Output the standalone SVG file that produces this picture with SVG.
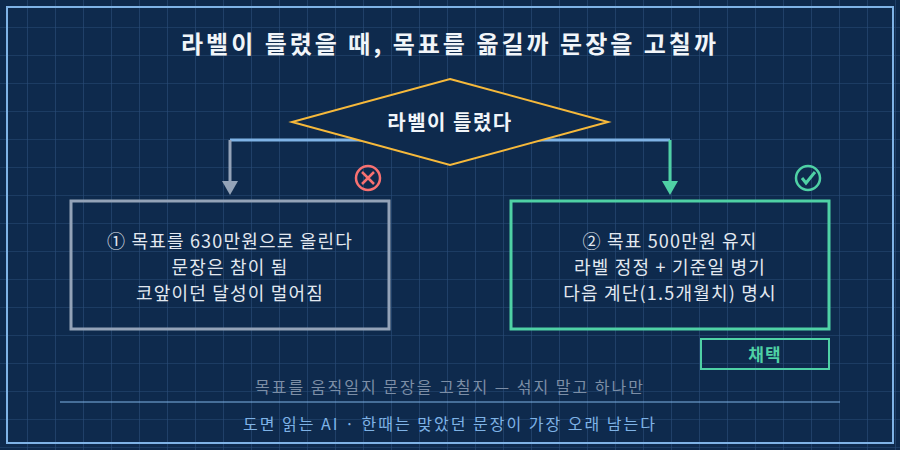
<svg xmlns="http://www.w3.org/2000/svg" width="900" height="450" viewBox="0 0 900 450">
<defs>
<pattern id="grid" width="28" height="28" patternUnits="userSpaceOnUse"><path d="M28 0V28M0 28H28" fill="none" stroke="#2a4d7a" stroke-width="1.2"/></pattern>
</defs>
<style>
text{font-family:"Noto Sans CJK KR","Noto Sans",sans-serif;text-anchor:middle}
.t{fill:#f1f5f9}
.n{fill:#e2e8f0;font-size:18px;letter-spacing:1.2px}
</style>
<rect width="900" height="450" fill="#0e2a4d"/>
<rect width="900" height="450" fill="url(#grid)"/>
<rect x="7" y="7" width="886" height="436" fill="none" stroke="#7fb3e6" stroke-width="2"/>
<text class="t" x="450" y="53" font-size="24" font-weight="bold" letter-spacing="3">라벨이 틀렸을 때, 목표를 옮길까 문장을 고칠까</text>
<g id="connectors" fill="none" stroke-width="3">
<path d="M367 140H230" stroke="#7fb3e6"/>
<path d="M230 140V182" stroke="#94a3b8"/>
<path d="M222 181L230 195L238 181Z" fill="#94a3b8" stroke="none"/>
<path d="M530 140H670" stroke="#7fb3e6"/>
<path d="M670 140V182" stroke="#4fd1a5"/>
<path d="M662 181L670 195L678 181Z" fill="#4fd1a5" stroke="none"/>
</g>
<g id="decision">
<polygon points="450,79 608,122 450,165 292,122" fill="#0e2a4d" stroke="#f6b93b" stroke-width="2"/>
<text class="t" x="450" y="130" font-size="20" font-weight="bold" letter-spacing="1.5">라벨이 틀렸다</text>
</g>
<g id="reject">
<circle cx="368" cy="178" r="12" fill="none" stroke="#f87171" stroke-width="2.5"/>
<path d="M362 172L374 184M374 172L362 184" stroke="#f87171" stroke-width="2.5"/>
<rect x="71" y="201" width="318" height="128" fill="none" stroke="#94a3b8" stroke-width="3"/>
<text class="n" x="230" y="248">① 목표를 630만원으로 올린다</text>
<text class="n" x="230" y="274">문장은 참이 됨</text>
<text class="n" x="230" y="300">코앞이던 달성이 멀어짐</text>
</g>
<g id="accept">
<circle cx="808" cy="178" r="12" fill="none" stroke="#4fd1a5" stroke-width="2.5"/>
<path d="M802 178L806 183L815 172" fill="none" stroke="#4fd1a5" stroke-width="3"/>
<rect x="511" y="201" width="318" height="128" fill="none" stroke="#4fd1a5" stroke-width="3"/>
<text class="n" x="670" y="248">② 목표 500만원 유지</text>
<text class="n" x="670" y="274">라벨 정정 + 기준일 병기</text>
<text class="n" x="670" y="300">다음 계단(1.5개월치) 명시</text>
</g>
<g id="adopt">
<rect x="701" y="339" width="128" height="30" fill="none" stroke="#4fd1a5" stroke-width="2"/>
<text x="765" y="361" font-size="17" font-weight="bold" letter-spacing="1" fill="#4fd1a5">채택</text>
</g>
<text x="450" y="393" font-size="16" letter-spacing="2" fill="#7c8ea6">목표를 움직일지 문장을 고칠지 — 섞지 말고 하나만</text>
<line x1="60" y1="402" x2="840" y2="402" stroke="#7fb3e6" stroke-width="1"/>
<text x="450" y="430" font-size="16" letter-spacing="2" fill="#7fb3e6">도면 읽는 AI · 한때는 맞았던 문장이 가장 오래 남는다</text>
</svg>
